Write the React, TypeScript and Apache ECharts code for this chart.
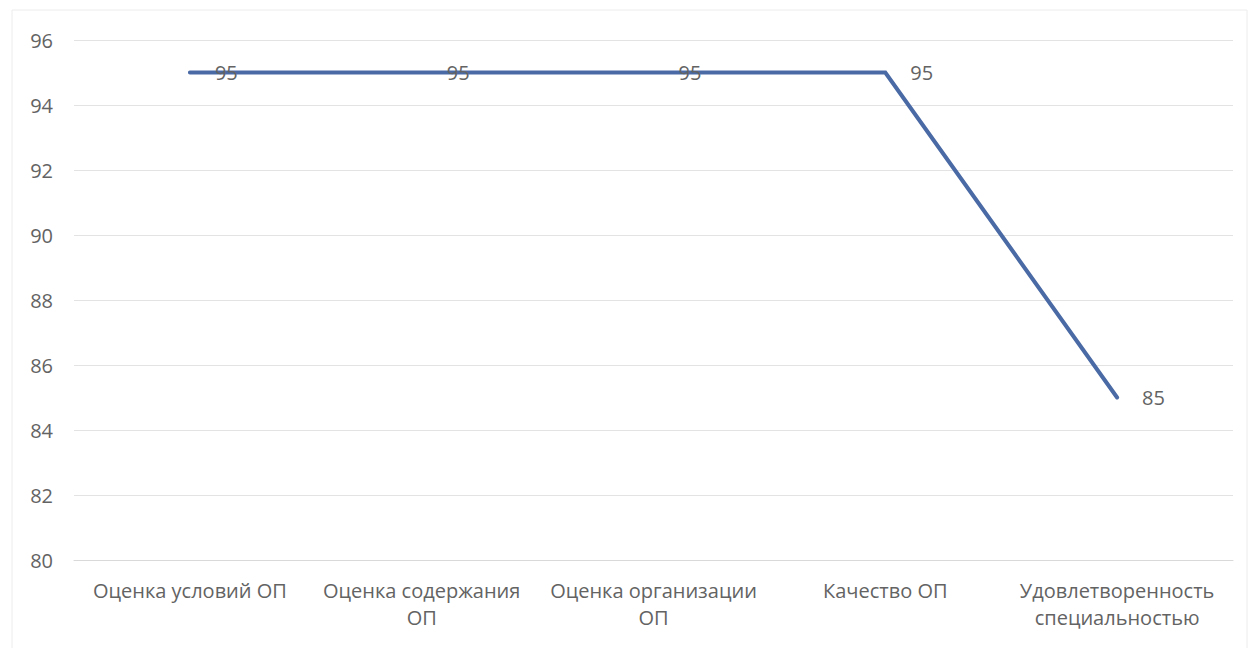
import React, { useEffect, useRef } from "react";
import * as echarts from "echarts";

const categories = [
  "Оценка условий ОП",
  "Оценка содержания ОП",
  "Оценка организации ОП",
  "Качество ОП",
  "Удовлетворенность специальностью",
];
const values = [95, 95, 95, 95, 85];
const yMin = 80;
const yMax = 96;
const yStep = 2;

function wrapLabel(s: string): string {
  if (s.length <= 18) return s;
  const i = s.lastIndexOf(" ");
  return i > 0 ? s.slice(0, i) + "\n" + s.slice(i + 1) : s;
}

export default function App() {
  const ref = useRef<HTMLDivElement>(null);
  useEffect(() => {
    if (!ref.current) return;
    const chart = echarts.init(ref.current, null, { renderer: "svg" });
    chart.setOption({
      animation: false,
      backgroundColor: "#ffffff",
      textStyle: { fontFamily: "Open Sans" },
      graphic: [
        {
          type: "rect",
          shape: { x: 12, y: 10, width: 1235, height: 650 },
          style: { fill: "none", stroke: "#ececec", lineWidth: 1 },
          silent: true,
        },
      ],
      grid: { left: 74, right: 16, top: 40, bottom: 88, containLabel: false },
      xAxis: {
        type: "category",
        data: categories,
        boundaryGap: true,
        axisLine: { show: true, lineStyle: { color: "#d9d9d9", width: 1 } },
        axisTick: { show: false },
        axisLabel: {
          color: "#636363",
          fontSize: 20,
          margin: 17,
          lineHeight: 27,
          interval: 0,
          formatter: (v: string) => wrapLabel(v),
        },
      },
      yAxis: {
        type: "value",
        min: yMin,
        max: yMax,
        interval: yStep,
        axisLine: { show: false },
        axisTick: { show: false },
        axisLabel: { color: "#636363", fontSize: 20, margin: 21 },
        splitLine: { lineStyle: { color: "#e3e3e3", width: 1 } },
      },
      series: [
        {
          type: "line",
          data: values,
          symbol: "circle",
          symbolSize: 0,
          showSymbol: true,
          itemStyle: { color: "#4a6aa5" },
          lineStyle: { color: "#4a6aa5", width: 4, cap: "round", join: "miter" },
          label: {
            show: true,
            position: "right",
            distance: 25,
            color: "#636363",
            fontSize: 20,
          },
        },
      ],
    });
    return () => chart.dispose();
  }, []);
  return (
    <div
      ref={ref}
      style={{ position: "absolute", left: 0, top: 0, width: 1249, height: 648 }}
    />
  );
}
